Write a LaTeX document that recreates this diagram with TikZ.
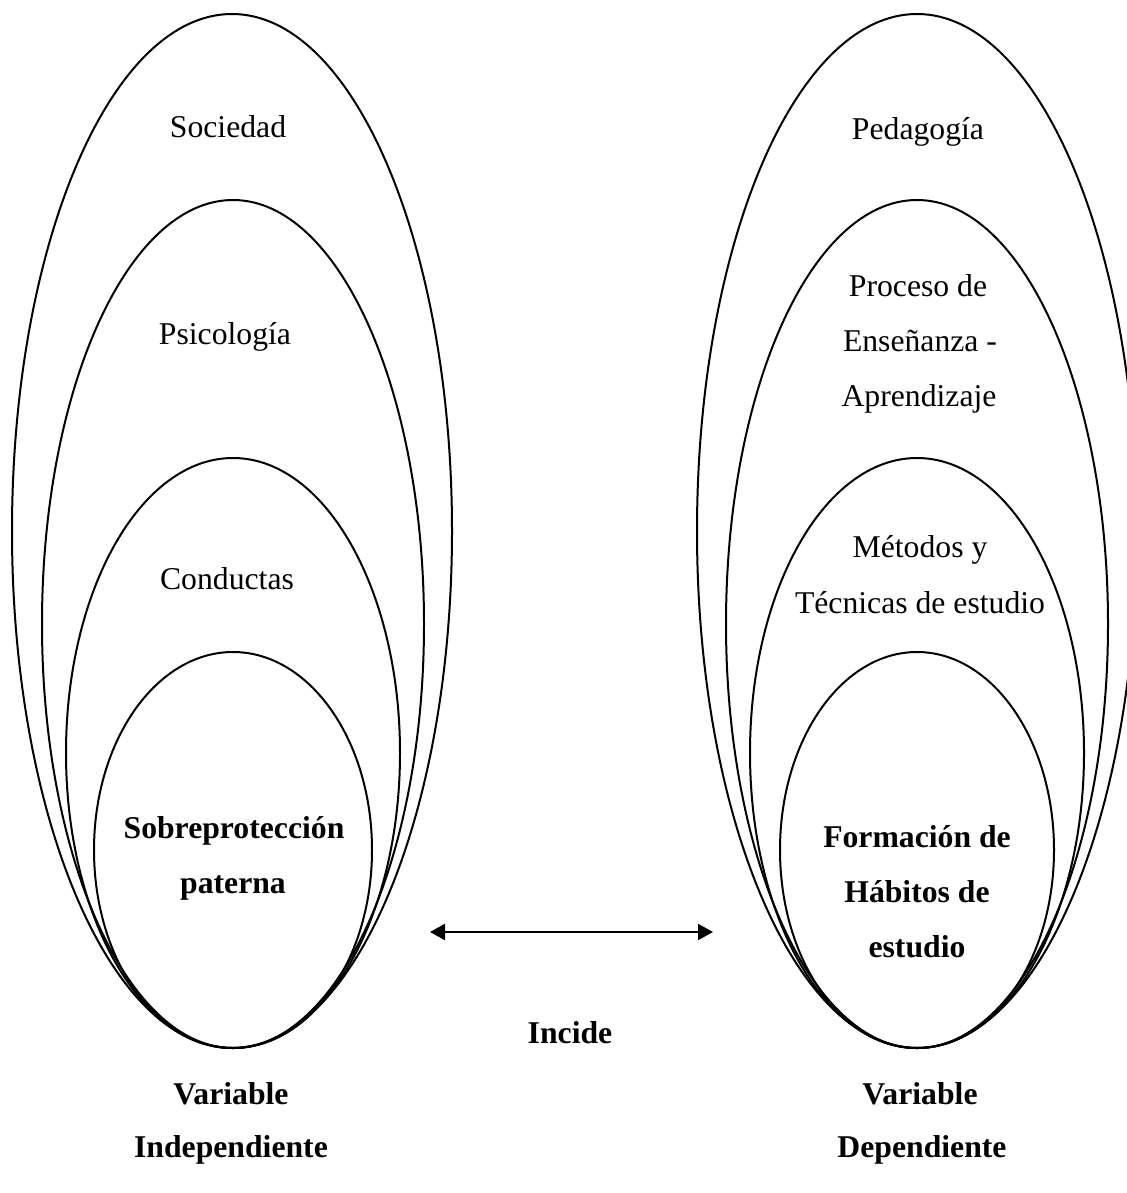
\documentclass[tikz,border=0pt]{standalone}
\usepackage{fontspec}
\setmainfont{Liberation Serif}
\usetikzlibrary{arrows.meta}
\begin{document}
\begin{tikzpicture}[x=0.5pt,y=-0.5pt,line width=1pt,
  ring/.style={draw=black,line width=1pt},
  lbl/.style={anchor=base,inner sep=0pt,font=\fontsize{15.85}{27.5}\selectfont},
  blbl/.style={anchor=base,inner sep=0pt,font=\fontsize{15.85}{27.5}\selectfont\bfseries},
  link/.style={{Triangle[length=7.5pt,width=8pt]}-{Triangle[length=7.5pt,width=8pt]},line width=1.1pt}]
\useasboundingbox (0,0) rectangle (1127,1193);
% left family
\coordinate (L1) at (232,531);
\coordinate (L2) at (233,624);
\coordinate (L3) at (233,753);
\coordinate (L4) at (233,850);
\draw[ring] (L1) ellipse [x radius=220, y radius=517];
\draw[ring] (L2) ellipse [x radius=191, y radius=424];
\draw[ring] (L3) ellipse [x radius=167, y radius=295];
\draw[ring] (L4) ellipse [x radius=139, y radius=198];
% right family
\coordinate (R1) at (917,531);
\coordinate (R2) at (917,624);
\coordinate (R3) at (917,753);
\coordinate (R4) at (917,850);
\draw[ring] (R1) ellipse [x radius=220, y radius=517];
\draw[ring] (R2) ellipse [x radius=191, y radius=424];
\draw[ring] (R3) ellipse [x radius=167, y radius=295];
\draw[ring] (R4) ellipse [x radius=137, y radius=198];
% left labels
\node[lbl] (soc) at (228,138) {Sociedad};
\node[lbl] (psi) at (225,344) {Psicología};
\node[lbl] (con) at (227,589) {Conductas};
\node[blbl] (sob1) at (234,838) {Sobreprotección};
\node[blbl] (sob2) at (233,893) {paterna};
% right labels
\node[lbl] (ped) at (918,140) {Pedagogía};
\node[lbl] (pro1) at (918,296) {Proceso de};
\node[lbl] (pro2) at (920,351) {Enseñanza -};
\node[lbl] (pro3) at (919,406) {Aprendizaje};
\node[lbl] (met1) at (920,557) {Métodos y};
\node[lbl] (met2) at (920,613) {Técnicas de estudio};
\node[blbl] (for1) at (917,847) {Formación de};
\node[blbl] (for2) at (917,902) {Hábitos de};
\node[blbl] (for3) at (917,957) {estudio};
% arrow
\coordinate (aL) at (430,932);
\coordinate (aR) at (713,932);
\draw[link] (aL) -- (aR);
\node[blbl] (inc) at (570,1043) {Incide};
% bottom captions
\node[blbl] (vi1) at (231,1104) {Variable};
\node[blbl] (vi2) at (231,1157) {Independiente};
\node[blbl] (vd1) at (920,1104) {Variable};
\node[blbl] (vd2) at (922,1157) {Dependiente};
\end{tikzpicture}
\end{document}
